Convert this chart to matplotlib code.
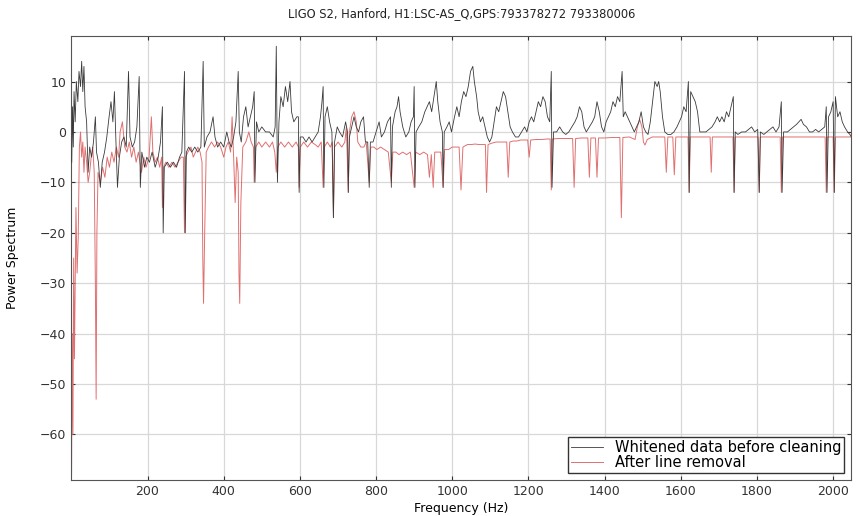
import matplotlib
matplotlib.use('Agg')
import matplotlib.pyplot as plt

# knots: (frequency Hz, power)
black_pts = [
    (1, -6), (3, 5), (5, -3), (7, 8), (10, 2), (13, 10), (17, 6), (20, 12), (24, 9),
    (27, 14), (30, 8), (33, 13), (36, 5), (40, 2), (44, -8), (48, -3), (53, -5),
    (58, -2), (63, 3), (66, -4), (71, -6), (76, -11), (81, -6), (87, -4), (93, -1),
    (99, 3), (104, 6), (109, 2), (113, 8), (117, -2), (121, -11), (126, -5),
    (132, -2), (138, -1), (144, -3), (150, 12), (154, -1), (160, -3), (166, -2),
    (172, 1), (178, 11), (181, -11), (185, -4), (192, -7), (198, -5), (205, -6),
    (212, -4), (220, -7), (228, -5), (234, -2), (239, 5), (241, -20), (244, -7),
    (252, -6), (260, -7), (268, -6), (276, -7), (284, -5), (290, -4), (297, 12),
    (299, -20), (302, -4), (308, -3), (316, -4), (324, -3), (332, -4), (340, -3),
    (346, 14), (349, -3), (356, -1), (364, 0), (372, 3), (377, -1), (384, -3),
    (392, -2), (400, -3), (408, 0), (414, -2), (420, -3), (426, -1), (432, 2),
    (438, 12), (441, 0), (446, -2), (452, 3), (458, 5), (464, 1), (470, 3),
    (476, 5), (480, 8), (482, -10), (486, 2), (492, 0), (500, 1), (510, 0),
    (520, 0), (530, -1), (535, 1), (538, 17), (541, -10), (545, 2), (550, 7),
    (556, 5), (562, 9), (568, 6), (574, 10), (578, 4), (584, 2), (592, 3),
    (596, 3), (598, -12), (601, -1), (608, -1), (616, -2), (624, -1), (632, -2),
    (640, -1), (648, 0), (654, 3), (658, 6), (661, 9), (663, -11), (666, 3),
    (672, 5), (678, 2), (684, 0), (688, -17), (691, -2), (698, 1), (704, 0),
    (712, -1), (720, 2), (725, 0), (727, -12), (730, -1), (736, 1), (742, 3),
    (748, 1), (754, 0), (760, 2), (767, 3), (772, -2), (778, -2), (782, -11),
    (785, -2), (792, -2), (800, 0), (808, 2), (814, -1), (822, 0), (830, 2),
    (838, 3), (840, -11), (843, 1), (850, 4), (855, 5), (859, 7), (863, 4),
    (870, 1), (878, -1), (886, 0), (892, 2), (898, 3), (900, 9), (902, -11),
    (905, 0), (912, 1), (920, 2), (928, 4), (934, 5), (940, 6), (946, 4),
    (952, 7), (958, 10), (962, 6), (968, 2), (974, 0), (976, -11), (979, 0),
    (986, 1), (992, 2), (998, 0), (1006, 3), (1012, 5), (1018, 3), (1024, 6),
    (1030, 8), (1036, 7), (1042, 9), (1048, 12), (1054, 13), (1058, 10),
    (1064, 7), (1068, 4), (1074, 2), (1080, 3), (1086, 1), (1092, -1),
    (1098, -2), (1104, -1), (1110, 2), (1116, 5), (1122, 4), (1128, 6),
    (1134, 8), (1140, 7), (1146, 4), (1152, 1), (1158, 0), (1166, -1),
    (1174, -1), (1182, 0), (1190, 1), (1196, 0), (1202, 2), (1208, 3),
    (1214, 2), (1220, 4), (1226, 6), (1232, 5), (1238, 7), (1244, 6),
    (1250, 3), (1256, 2), (1260, 12), (1262, -11), (1266, 0), (1274, 0),
    (1282, 1), (1290, 0), (1298, -0.5), (1306, 0), (1314, 1), (1322, 2),
    (1328, 3), (1334, 5), (1340, 4), (1346, 1), (1352, 0), (1360, 1),
    (1368, 2), (1374, 3), (1380, 6), (1386, 4), (1392, 1), (1398, 0),
    (1404, 2), (1410, 3), (1416, 4), (1422, 6), (1428, 5), (1434, 7),
    (1440, 6), (1446, 12), (1449, 3), (1454, 4), (1460, 3), (1466, 2),
    (1472, 1), (1478, 0), (1484, 1), (1490, 2), (1496, 4), (1502, 1),
    (1508, 0), (1514, -0.5), (1520, 2), (1526, 6), (1532, 10), (1538, 9),
    (1542, 10), (1546, 8), (1552, 3), (1558, 0), (1566, -0.5), (1574, -0.5),
    (1582, 0), (1590, 1), (1596, 2), (1602, 3), (1608, 5), (1614, 4),
    (1620, 10), (1622, -12), (1626, 8), (1632, 7), (1638, 6), (1644, 4),
    (1650, 0), (1658, 0), (1666, 0), (1674, 0.5), (1682, 1), (1690, 2),
    (1696, 3), (1702, 2), (1708, 3), (1714, 2), (1720, 4), (1726, 3),
    (1732, 5), (1738, 7), (1740, -12), (1743, 0), (1750, -0.5), (1760, 0),
    (1770, 0), (1778, 0.5), (1786, 1), (1794, 0), (1802, 0.5), (1806, -12),
    (1809, 0), (1818, -0.5), (1826, 0), (1834, 0.5), (1842, 1), (1850, 0),
    (1858, 1), (1864, 6), (1866, -12), (1870, 0), (1880, 0), (1888, 0.5),
    (1896, 1), (1904, 1.5), (1910, 2), (1916, 2.5), (1922, 1.5), (1930, 1),
    (1938, 0), (1946, 0), (1954, 0.5), (1962, 0), (1970, 0.5), (1978, 1),
    (1982, 5), (1984, -12), (1988, 3), (1994, 4), (2000, 6), (2003, -12),
    (2006, 7), (2012, 3), (2018, 4), (2024, 2), (2030, 1), (2038, 0),
    (2044, -0.5), (2048, -1),
]

red_pts = [
    (0.5, -68), (2, -40), (4, -60), (6, -25), (8, -45), (10, -30), (12, -15),
    (15, -28), (18, -21), (21, -3), (24, 0), (27, -5), (30, -2), (33, -8),
    (36, -3), (40, -6), (44, -10), (48, -8), (52, -5), (56, -3), (60, -8),
    (63, -30), (65, -53), (67, -20), (70, -8), (76, -10), (82, -7), (88, -9),
    (94, -5), (100, -7), (106, -4), (112, -6), (118, -3), (124, -5), (128, 0),
    (134, 2), (140, -3), (146, -4), (152, -2), (158, -5), (164, -3), (170, -6),
    (176, -4), (184, -8), (190, -5), (196, -7), (204, -5), (210, 3), (214, -4),
    (220, -6), (226, -5), (232, -7), (237, -5), (239, -15), (242, -7),
    (248, -6), (256, -7), (264, -6), (272, -7), (280, -6), (288, -5),
    (294, -5), (297, -20), (300, -5), (306, -4), (314, -3), (320, -5),
    (326, -4), (332, -3), (338, -4), (343, -6), (345, -25), (347, -34),
    (350, -20), (354, -4), (360, -3), (368, -2), (376, -3), (384, -2),
    (392, -3), (400, -5), (406, -3), (412, -2), (418, -4), (422, 3),
    (426, -5), (430, -14), (434, -5), (438, -8), (440, -28), (442, -34),
    (445, -14), (450, -3), (458, -2), (466, 0), (472, -2), (478, -3),
    (480, -10), (484, -3), (492, -2), (500, -3), (510, -2), (520, -3),
    (528, -2), (534, -4), (538, -8), (542, -3), (550, -2), (560, -3),
    (570, -2), (580, -3), (590, -2), (596, -3), (598, -11), (601, -3),
    (610, -2), (620, -3), (630, -2), (640, -2.5), (648, -3), (656, -2),
    (661, -11), (664, -3), (672, -2), (680, -3), (685, -2), (688, -17),
    (691, -3), (700, -2), (710, -3), (718, -2), (722, 1), (727, -12),
    (730, 0), (736, 3), (742, 4), (748, 2), (752, -2), (760, -3), (768, -3),
    (774, -2), (782, -10), (786, -3), (794, -3), (802, -3.5), (812, -3),
    (822, -3.5), (832, -4), (840, -10), (844, -4), (852, -4), (860, -4.5),
    (870, -4), (880, -4.5), (890, -4), (900, -11), (904, -4), (915, -4.5),
    (925, -4), (935, -4.5), (940, -9), (945, -4.5), (950, -11), (954, -4),
    (962, -4), (970, -4), (976, -11), (980, -3.5), (990, -3.5), (1000, -3),
    (1010, -3), (1018, -3), (1023, -11.5), (1028, -3), (1040, -2.5),
    (1050, -2.5), (1060, -2.4), (1070, -2.5), (1080, -2.5), (1087, -2.5),
    (1090, -12), (1094, -2.5), (1105, -2.2), (1115, -2), (1125, -2),
    (1135, -2), (1143, -2), (1147, -9), (1151, -2), (1160, -1.8), (1170, -1.8),
    (1180, -1.6), (1190, -1.6), (1198, -1.6), (1202, -5), (1206, -1.6),
    (1220, -1.5), (1235, -1.5), (1250, -1.4), (1257, -1.4), (1260, -11.5),
    (1263, -1.4), (1280, -1.3), (1300, -1.3), (1316, -1.3), (1320, -11),
    (1324, -1.3), (1340, -1.2), (1356, -1.2), (1360, -9), (1364, -1.2),
    (1376, -1.2), (1380, -9), (1384, -1.2), (1400, -1.2), (1420, -1.1),
    (1440, -1.1), (1444, -17), (1448, -1.1), (1465, -1), (1480, -1.5),
    (1486, 1), (1492, 2.5), (1498, 1), (1502, -2), (1506, -2.6), (1512, -1.5),
    (1525, -1), (1540, -1), (1558, -1), (1562, -8), (1566, -1), (1579, -1),
    (1583, -8.5), (1587, -1), (1605, -1), (1619, -1), (1622, -12), (1625, -1),
    (1645, -1), (1665, -1), (1677, -1), (1680, -8), (1683, -1), (1700, -1),
    (1720, -1), (1737, -1), (1740, -12), (1743, -1), (1760, -1), (1780, -1),
    (1803, -1), (1806, -12), (1809, -1), (1830, -1), (1850, -1), (1861, -1),
    (1864, -12), (1867, -1), (1890, -1), (1920, -1), (1950, -1), (1979, -1),
    (1982, -12), (1985, -1), (2000, -1), (2003, -12), (2006, -1), (2025, -1),
    (2048, -1),
]

black_freq = [p[0] for p in black_pts]
black_psd = [p[1] for p in black_pts]
red_freq = [p[0] for p in red_pts]
red_psd = [p[1] for p in red_pts]

x_ticks = [200, 400, 600, 800, 1000, 1200, 1400, 1600, 1800, 2000]
y_ticks = [-60, -50, -40, -30, -20, -10, 0, 10]

plt.rcParams['font.family'] = ['DejaVu Sans']

fig = plt.figure(figsize=(8.6, 5.16), dpi=100)
ax = fig.add_axes([0.083, 0.07, 0.907, 0.86])

red_line, = ax.plot(red_freq, red_psd, color='#e07070', lw=0.7, zorder=2)
black_line, = ax.plot(black_freq, black_psd, color='#3a3a3a', lw=0.6, zorder=3)

ax.set_xlim(0, 2048)
ax.set_ylim(-69, 19)
ax.set_xticks(x_ticks)
ax.set_yticks(y_ticks)
ax.grid(True, color='#d8d8d8', lw=0.9)
ax.set_axisbelow(True)
ax.tick_params(direction='in', top=True, right=True, labelsize=9,
               length=3, colors='#333333')
for s in ax.spines.values():
    s.set_color('#555555')
    s.set_linewidth(0.8)

ax.set_title('LIGO S2, Hanford, H1:LSC-AS_Q,GPS:793378272 793380006',
             fontsize=8.3, color='#222222', pad=14)
ax.set_xlabel('Frequency (Hz)', fontsize=9, labelpad=3)
ax.set_ylabel('Power Spectrum', fontsize=9, labelpad=15)

ax.legend([black_line, red_line],
          ['Whitened data before cleaning', 'After line removal'],
          loc='lower right', fontsize=10.5, fancybox=False, framealpha=1,
          edgecolor='#333333', handlelength=2.2, borderaxespad=0.5,
          labelspacing=0.0, borderpad=0.2)

fig.savefig('out.png', dpi=100)
